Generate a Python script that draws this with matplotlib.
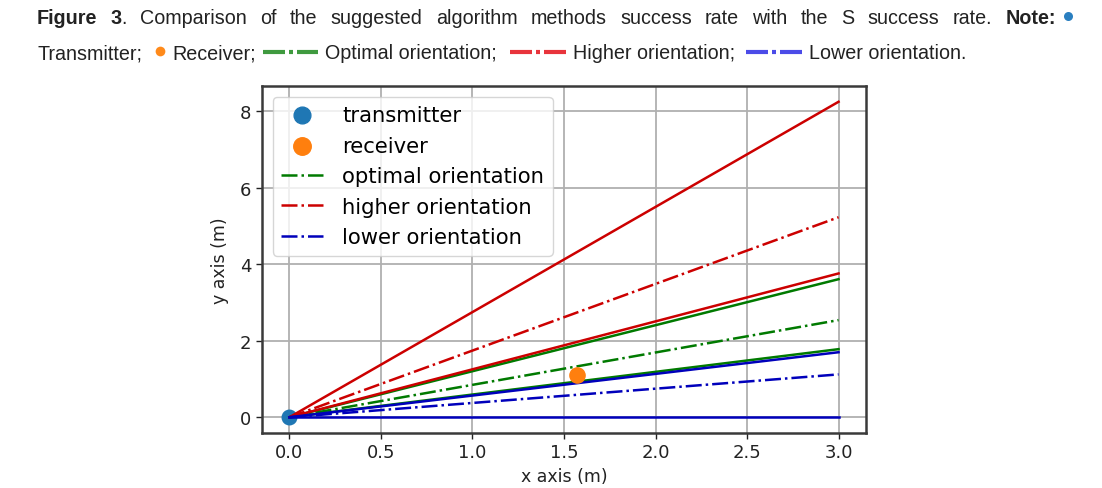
import matplotlib
matplotlib.use('Agg')
import matplotlib.pyplot as plt
from matplotlib.lines import Line2D

# ---- data ----
x_range = [0.0, 3.0]
optimal_solid_end = [3.61, 1.78]
optimal_dash_end = 2.54
higher_solid_end = [8.25, 3.76]
higher_dash_end = 5.23
lower_solid_end = [1.70, 0.0]
lower_dash_end = 1.12
transmitter_xy = [0.0, 0.0]
receiver_xy = [1.57, 1.10]
xticks = [0.0, 0.5, 1.0, 1.5, 2.0, 2.5, 3.0]
yticks = [0, 2, 4, 6, 8]

W, H = 1102, 489
fig = plt.figure(figsize=(W / 100, H / 100), dpi=100)
renderer = fig.canvas.get_renderer()

def fx(px):
    return px / W

def fy(py):
    return 1 - py / H

# ---- chart ----
ax = fig.add_axes([fx(262), fy(434), fx(866) - fx(262), fy(87) - fy(434)])

C_GREEN = '#007a00'
C_RED = '#cc0000'
C_BLUE = '#0000bb'

ax.scatter([transmitter_xy[0]], [transmitter_xy[1]], s=110, color='#1f77b4', label='transmitter', zorder=2)
ax.scatter([receiver_xy[0]], [receiver_xy[1]], s=120, color='#ff7f0e', label='receiver', zorder=4)

lw = 1.8
ax.plot(x_range, [0, optimal_dash_end], color=C_GREEN, ls='-.', lw=lw, label='optimal orientation', zorder=3)
for e in optimal_solid_end:
    ax.plot(x_range, [0, e], color=C_GREEN, ls='-', lw=lw, zorder=3)
ax.plot(x_range, [0, higher_dash_end], color=C_RED, ls='-.', lw=lw, label='higher orientation', zorder=3)
for e in higher_solid_end:
    ax.plot(x_range, [0, e], color=C_RED, ls='-', lw=lw, zorder=3)
ax.plot(x_range, [0, lower_dash_end], color=C_BLUE, ls='-.', lw=lw, label='lower orientation', zorder=3)
for e in lower_solid_end:
    ax.plot(x_range, [0, e], color=C_BLUE, ls='-', lw=lw, zorder=3)

ax.set_xticks(xticks)
ax.set_yticks(yticks)
ax.set_xticklabels([f'{t:.1f}' for t in xticks])
ax.tick_params(labelsize=13, colors='#222222', width=1.0, length=4)
ax.grid(True, color='#b0b0b0', lw=1.3)
ax.set_axisbelow(True)
for sp in ax.spines.values():
    sp.set_color('#3a3a3a')
    sp.set_linewidth(1.8)
ax.set_xlabel('x axis (m)', fontsize=12.5, color='#222222', labelpad=4)
ax.set_ylabel('y axis (m)', fontsize=12.5, color='#222222', labelpad=8)

leg = ax.legend(loc='upper left', fontsize=15.2, handlelength=2.0, labelspacing=0.5,
                handletextpad=0.9, borderpad=0.4, framealpha=0.8, markerscale=1.15)

# ---- caption ----
CAP_FS = 14.2
CAP_FONT = 'Liberation Sans'
CAP_COLOR = '#222222'

def text_width(s, weight):
    t = fig.text(0, 0, s, fontsize=CAP_FS, family=CAP_FONT, fontweight=weight)
    w = t.get_window_extent(renderer).width
    t.remove()
    return w

def put(s, x, y, weight='normal'):
    fig.text(fx(x), fy(y), s, fontsize=CAP_FS, family=CAP_FONT, fontweight=weight,
             color=CAP_COLOR, ha='left', va='baseline')
    return text_width(s, weight)

# line 1, justified between x=37 and x=1056
line1 = [[('Figure', 'bold')], [('3', 'bold'), ('.', 'normal')], [('Comparison', 'normal')],
         [('of', 'normal')], [('the', 'normal')], [('suggested', 'normal')], [('algorithm', 'normal')],
         [('methods', 'normal')], [('success', 'normal')], [('rate', 'normal')], [('with', 'normal')],
         [('the', 'normal')], [('S', 'normal')], [('success', 'normal')], [('rate.', 'normal')],
         [('Note:', 'bold')]]
widths = [sum(text_width(s, w) for s, w in word) for word in line1]
x0, x1 = 37, 1056
gap = (x1 - x0 - sum(widths)) / (len(line1) - 1)
x = x0
for word, wd in zip(line1, widths):
    xx = x
    for s, w in word:
        xx += put(s, xx, 24, w)
    x += wd + gap
fig.add_artist(Line2D([fx(1068)], [fy(17)], marker='o', ms=6.5, color='#2a7fc0', mec='none'))

# line 2
put('Transmitter;', 37, 59)
fig.add_artist(Line2D([fx(160)], [fy(52)], marker='o', ms=7, color='#ff8a1a', mec='none'))
put('Receiver;', 172, 59)

def icon(xa, xb, color):
    dash = (xb - xa - 12) / 2
    segs = [(xa, xa + dash), (xa + dash + 4, xa + dash + 8), (xa + dash + 12, xb)]
    for a, b in segs:
        fig.add_artist(Line2D([fx(a), fx(b)], [fy(53), fy(53)], color=color, lw=3.0,
                              solid_capstyle='butt'))

icon(263, 318, '#3f9a3f')
put('Optimal orientation;', 325, 59)
icon(510, 566, '#e8343c')
put('Higher orientation;', 573, 59)
icon(746, 802, '#4b4be8')
put('Lower orientation.', 809, 59)

fig.savefig('out.png', dpi=100)
